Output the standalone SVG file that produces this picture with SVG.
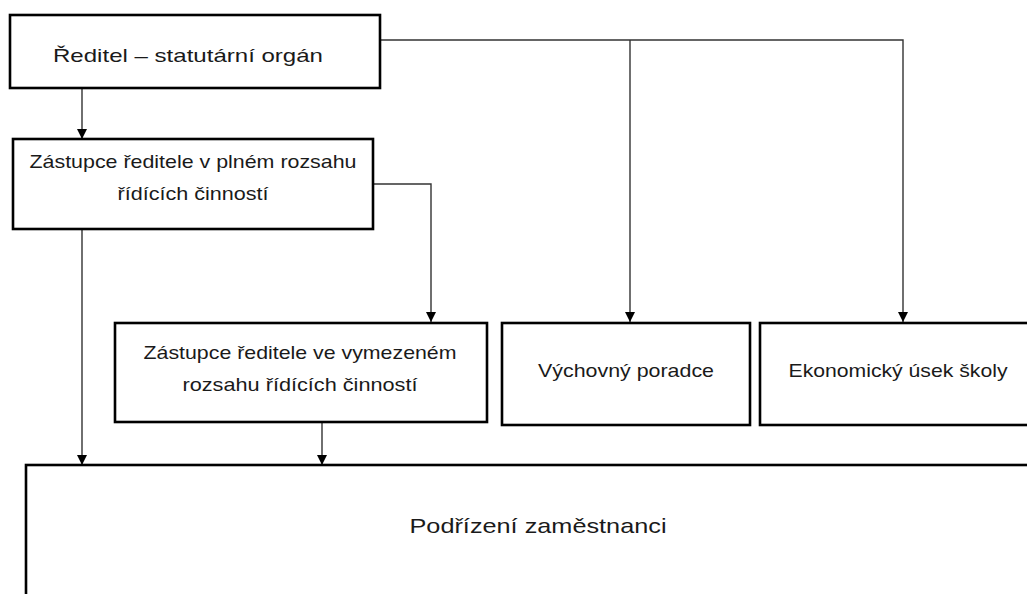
<svg xmlns="http://www.w3.org/2000/svg" width="1027" height="594" viewBox="0 0 1027 594">
<style>
.box{fill:#fff;stroke:#000;stroke-width:2.6}
.t{font-family:"Liberation Sans",Arial,sans-serif;font-size:19px;fill:#1a1a1a;text-anchor:middle}
.t2{font-family:"Liberation Sans Narrow","Liberation Sans",Arial,sans-serif;font-size:21px;fill:#1a1a1a;text-anchor:middle}
.c{fill:none;stroke:#333;stroke-width:1.4}
</style>
<defs>
<marker id="ah" viewBox="0 0 10 10" refX="10" refY="5" markerWidth="12" markerHeight="10" markerUnits="userSpaceOnUse" orient="auto">
<path d="M0,0 L10,5 L0,10 z" fill="#000"/>
</marker>
</defs>
<rect width="1027" height="594" fill="#fff"/>
<g id="connectors">
<path class="c" d="M82,89 V139" marker-end="url(#ah)"/>
<path class="c" d="M82,230 V465" marker-end="url(#ah)"/>
<path class="c" d="M374,184 H431 V322" marker-end="url(#ah)"/>
<path class="c" d="M322,423 V465" marker-end="url(#ah)"/>
<path class="c" d="M381,40 H903 V322" marker-end="url(#ah)"/>
<path class="c" d="M630,40 V322" marker-end="url(#ah)"/>
</g>
<g id="reditel">
<rect class="box" x="10" y="15" width="370" height="73"/>
<text class="t" x="188" y="62" textLength="270" lengthAdjust="spacingAndGlyphs">Ředitel – statutární orgán</text>
</g>
<g id="zastupce-plny">
<rect class="box" x="13" y="139" width="360" height="90"/>
<text class="t" x="193" y="168" textLength="327" lengthAdjust="spacingAndGlyphs">Zástupce ředitele v plném rozsahu</text>
<text class="t" x="193" y="200" textLength="151" lengthAdjust="spacingAndGlyphs">řídících činností</text>
</g>
<g id="zastupce-vymezeny">
<rect class="box" x="115" y="323" width="372" height="99"/>
<text class="t" x="300" y="359" textLength="313" lengthAdjust="spacingAndGlyphs">Zástupce ředitele ve vymezeném</text>
<text class="t" x="300" y="391" textLength="235" lengthAdjust="spacingAndGlyphs">rozsahu řídících činností</text>
</g>
<g id="vychovny-poradce">
<rect class="box" x="502" y="323" width="248" height="102"/>
<text class="t" x="626" y="377" textLength="176" lengthAdjust="spacingAndGlyphs">Výchovný poradce</text>
</g>
<g id="ekonomicky-usek">
<rect class="box" x="760" y="323" width="280" height="102"/>
<text class="t" x="898" y="377" textLength="219" lengthAdjust="spacingAndGlyphs">Ekonomický úsek školy</text>
</g>
<g id="podrizeni">
<rect class="box" x="26" y="465" width="1010" height="150"/>
<text class="t2" x="538" y="533" textLength="257" lengthAdjust="spacingAndGlyphs">Podřízení zaměstnanci</text>
</g>
</svg>
